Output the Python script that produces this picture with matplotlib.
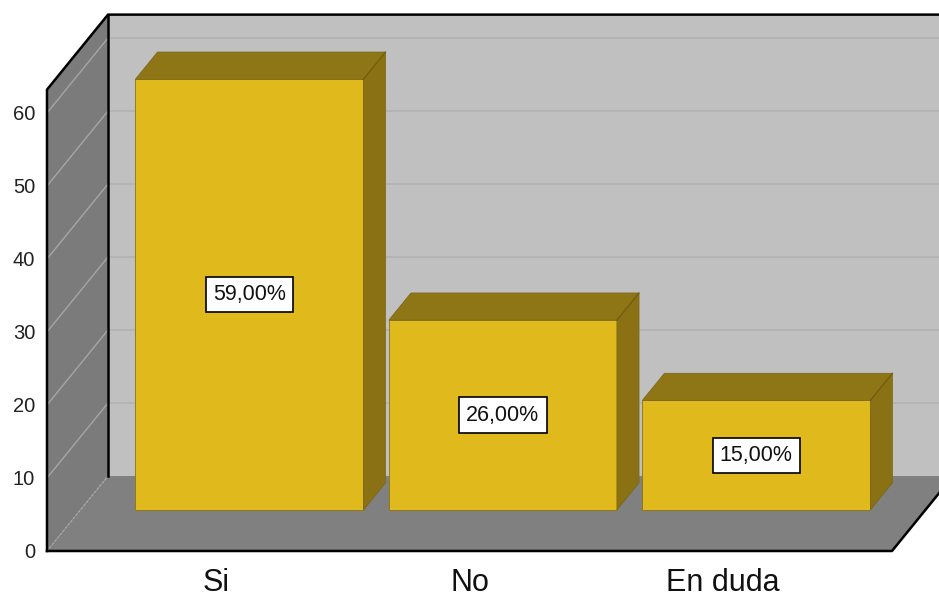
import numpy as np
import matplotlib.pyplot as plt
from matplotlib.patches import Polygon

categorias = ['Si', 'No', 'En duda']
porcentajes = [59, 26, 15]
ticks_y = [0, 10, 20, 30, 40, 50, 60]

# profundidad del efecto 3D (en unidades de datos)
DX, DY = 0.2406, 10.27
D0, D1 = 0.547, 0.91      # donde empiezan / terminan las barras en profundidad
ANCHO = 0.9
XMIN, XMAX = -0.667, 2.667
YMAX = 63.2

plt.rcParams['font.family'] = ['Liberation Sans', 'DejaVu Sans']

fig = plt.figure(figsize=(9.39, 5.97), dpi=100)
ax = fig.add_axes([47 / 939, 46 / 597, 845 / 939, 461.4 / 597])
ax.set_xlim(XMIN, XMAX)
ax.set_ylim(0, YMAX)
ax.patch.set_visible(False)
for s in ax.spines.values():
    s.set_visible(False)


def poly(pts, fc, ec='none', lw=0, z=1):
    ax.add_patch(Polygon(pts, closed=True, facecolor=fc, edgecolor=ec,
                         linewidth=lw, zorder=z, clip_on=False))


# paredes y suelo
poly([(XMIN + DX, DY), (XMAX + DX, DY), (XMAX + DX, YMAX + DY), (XMIN + DX, YMAX + DY)], '#C0C0C0', z=0)
poly([(XMIN, 0), (XMIN + DX, DY), (XMIN + DX, YMAX + DY), (XMIN, YMAX)], '#7B7B7B', z=0)
poly([(XMIN, 0), (XMAX, 0), (XMAX + DX, DY), (XMIN + DX, DY)], '#808080', z=0)

# lineas de rejilla
for v in ticks_y[1:]:
    ax.plot([XMIN + DX, XMAX + DX], [v + DY, v + DY], color='#B2B2B2', lw=1.2, zorder=1, clip_on=False)
    ax.plot([XMIN, XMIN + DX], [v, v + DY], color='#A6A6A6', lw=1.0, zorder=1, clip_on=False)
ax.plot([XMIN, XMIN + DX], [0, DY], color='#A8A8A8', lw=1.0, ls=(0, (1.5, 1.5)), zorder=1, clip_on=False)

# bordes negros
ax.plot([XMIN, XMIN, XMIN + DX, XMAX + DX], [0, YMAX, YMAX + DY, YMAX + DY], color='black', lw=1.8, zorder=2, clip_on=False)
ax.plot([XMIN + DX, XMIN + DX], [DY, YMAX + DY], color='black', lw=1.8, zorder=2, clip_on=False)
ax.plot([XMIN, XMAX, XMAX + DX], [0, 0, DY], color='black', lw=1.8, zorder=2, clip_on=False)

# barras
x = np.arange(len(categorias))
ax.bar(x + D0 * DX, porcentajes, width=ANCHO, bottom=D0 * DY, color='#E0B91D',
       edgecolor='#8A7416', linewidth=0.6, zorder=3, clip_on=False)

ddx = (D1 - D0) * DX
ddy = (D1 - D0) * DY
for xi, v in zip(x, porcentajes):
    l = xi - ANCHO / 2 + D0 * DX
    r = xi + ANCHO / 2 + D0 * DX
    b = D0 * DY
    t = v + b
    poly([(l, t), (r, t), (r + ddx, t + ddy), (l + ddx, t + ddy)], '#8E7616', ec='#7A6612', lw=0.5, z=3)
    poly([(r, b), (r, t), (r + ddx, t + ddy), (r + ddx, b + ddy)], '#8A7214', ec='#7A6612', lw=0.5, z=3)
    ax.plot([r, r + ddx], [t, t + ddy], color='#6E5C10', lw=0.8, zorder=4, clip_on=False)
    ax.text(xi + D0 * DX, b + v / 2, f'{v:.2f}%'.replace('.', ','), ha='center', va='center',
            fontsize=15.5, color='#111111', zorder=6,
            bbox=dict(boxstyle='square,pad=0.33', fc='white', ec='black', lw=1.2))

ax.set_yticks(ticks_y)
ax.tick_params(axis='y', length=0, pad=8.5, labelsize=14.5, labelcolor='#222222')
ax.set_xticks(x, categorias)
ax.tick_params(axis='x', length=0, pad=12, labelsize=22, labelcolor='#111111')

fig.savefig('out.png', dpi=100, facecolor='white')
